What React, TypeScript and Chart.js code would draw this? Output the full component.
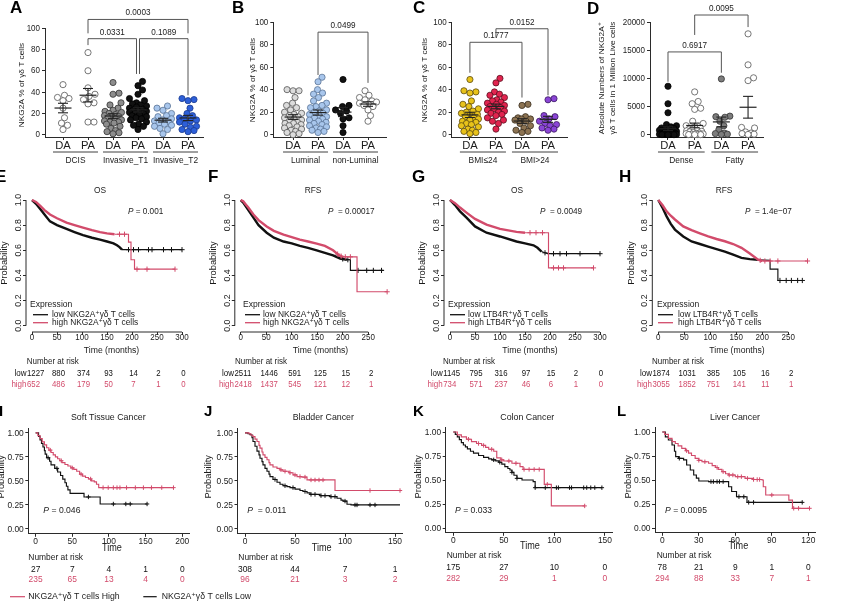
import React, { useEffect, useRef } from "react";
import { Chart, registerables } from "chart.js";

Chart.register(...registerables);

const W = 846;
const H = 603;
const FONT = '"Liberation Sans", Arial, "DejaVu Sans", sans-serif';
const RED = "#d24b6b";
const INK = "#1b1b1b";
const AX = "#2b2b2b";

/* ---------------- Panel A ---------------- */
const A_CATS = ["DA", "PA", "DA", "PA", "DA", "PA"];
const A_GROUPS = ["DCIS", "Invasive_T1", "Invasive_T2"];
const A_Y_TICKS = [0, 20, 40, 60, 80, 100];
const A_DCIS_DA = [47, 37, 35, 34, 32, 25, 16, 11, 9, 5];
const A_DCIS_PA = [77, 60, 44, 38, 36, 33, 30, 29, 12, 12];
const A_T1_DA = [49, 39, 38, 30, 28, 25, 23, 22, 21, 20, 19, 18, 17, 17, 16, 15, 14, 13, 12, 12, 11, 10, 8, 6, 4, 3, 2, 1];
const A_T1_PA = [50, 46, 42, 38, 34, 32, 30, 29, 28, 27, 26, 25, 24, 23, 22, 22, 21, 20, 20, 19, 18, 17, 16, 15, 14, 12, 10, 9, 8, 5];
const A_T2_DA = [27, 25, 23, 20, 18, 17, 15, 14, 13, 12, 11, 10, 9, 8, 6, 5, 1];
const A_T2_PA = [34, 33, 32, 25, 20, 18, 16, 15, 14, 13, 12, 10, 8, 7, 5, 4, 3];
const A_P = ["0.0003", "0.0331", "0.1089"];

/* ---------------- Panel B ---------------- */
const B_CATS = ["DA", "PA", "DA", "PA"];
const B_GROUPS = ["Luminal", "non-Luminal"];
const B_Y_TICKS = [0, 20, 40, 60, 80, 100];
const B_LUM_DA = [40, 39, 39, 33, 28, 26, 24, 22, 20, 19, 18, 17, 16, 15, 14, 13, 12, 11, 10, 10, 9, 8, 7, 6, 5, 4, 3, 2, 1, 0];
const B_LUM_PA = [51, 47, 40, 37, 36, 33, 30, 28, 26, 25, 24, 22, 21, 20, 19, 18, 17, 16, 15, 14, 13, 12, 11, 10, 9, 8, 7, 6, 5, 4, 3, 2];
const B_NON_DA = [49, 26, 25, 22, 21, 19, 15, 14, 8, 2];
const B_NON_PA = [39, 35, 33, 31, 30, 29, 28, 27, 26, 25, 22, 17, 12];
const B_P = ["0.0499"];

/* ---------------- Panel C ---------------- */
const C_CATS = ["DA", "PA", "DA", "PA"];
const C_GROUPS = ["BMI≤24", "BMI>24"];
const C_Y_TICKS = [0, 20, 40, 60, 80, 100];
const C_LO_DA = [49, 39, 38, 37, 30, 27, 25, 23, 21, 20, 19, 18, 17, 16, 15, 14, 13, 12, 11, 10, 9, 8, 7, 5, 4, 3, 2, 1];
const C_LO_PA = [50, 46, 38, 36, 35, 33, 31, 30, 29, 28, 27, 26, 25, 24, 23, 22, 21, 20, 19, 18, 17, 15, 13, 12, 10, 5];
const C_HI_DA = [27, 26, 16, 15, 14, 14, 13, 12, 10, 8, 6, 4, 3, 2];
const C_HI_PA = [32, 31, 17, 16, 14, 12, 10, 9, 8, 6, 5, 4];
const C_P = ["0.1777", "0.0152"];

/* ---------------- Panel D ---------------- */
const D_CATS = ["DA", "PA", "DA", "PA"];
const D_GROUPS = ["Dense", "Fatty"];
const D_Y_TICKS = [0, 5000, 10000, 15000, 20000];
const D_DENSE_DA = [8600, 5500, 3900, 1800, 1600, 1400, 1200, 1100, 1000, 900, 800, 700, 600, 500, 450, 400, 350, 300, 250, 200, 150, 120, 100, 80, 60, 40, 30, 20, 10, 5];
const D_DENSE_PA = [7600, 5900, 5500, 4700, 4500, 2400, 2000, 1600, 1400, 1200, 1000, 900, 800, 700, 600, 500, 400, 300, 250, 200, 150, 100, 50, 30, 20, 10];
const D_FATTY_DA = [9900, 3300, 3200, 3100, 2400, 1600, 900, 300, 200, 100, 50];
const D_FATTY_PA = [17900, 12400, 10100, 9600, 1300, 1200, 500, 300, 200, 100, 50];
const D_P = ["0.6917", "0.0095"];

/* ---------------- KM E-H (R style) ---------------- */
const R_Y_TICKS = [0, 0.2, 0.4, 0.6, 0.8, 1.0];
const E_X_TICKS = [0, 50, 100, 150, 200, 250, 300];
const F_X_TICKS = [0, 50, 100, 150, 200, 250];
const NKG_LEG = ["low NKG2A⁺γδ T cells", "high NKG2A⁺γδ T cells"];
const LTB_LEG = ["low LTB4R⁺γδ T cells", "high LTB4R⁺γδ T cells"];

const E_LOW = [[0, 1], [8, 0.97], [16, 0.93], [25, 0.885], [36, 0.83], [50, 0.8], [69, 0.77], [85, 0.745], [102, 0.72], [120, 0.7], [136, 0.685], [150, 0.67], [163, 0.655], [170, 0.64], [175, 0.625], [180, 0.605], [300, 0.605]];
const E_HIGH = [[0, 1], [8, 0.985], [16, 0.955], [25, 0.92], [36, 0.885], [50, 0.855], [69, 0.82], [85, 0.8], [102, 0.78], [120, 0.76], [136, 0.745], [150, 0.735], [165, 0.728], [193, 0.728], [193, 0.665], [198, 0.665], [198, 0.525], [205, 0.525], [205, 0.45], [286, 0.45]];
const E_LOW_CENS = [193, 203, 213, 233, 240, 263, 279, 300];
const E_HIGH_CENS = [175, 185, 210, 230, 286];
const E_RISK_LOW = [1227, 880, 374, 93, 14, 2, 0];
const E_RISK_HIGH = [652, 486, 179, 50, 7, 1, 0];
const E_P = "0.001";

const F_LOW = [[0, 1], [5, 0.98], [10, 0.95], [15, 0.92], [25, 0.86], [35, 0.8], [51, 0.74], [65, 0.7], [84, 0.67], [100, 0.655], [116, 0.635], [132, 0.62], [149, 0.6], [165, 0.58], [181, 0.56], [195, 0.535], [208, 0.525], [215, 0.525], [215, 0.44], [280, 0.44]];
const F_HIGH = [[0, 1], [5, 0.99], [10, 0.965], [15, 0.94], [25, 0.885], [35, 0.84], [51, 0.79], [65, 0.755], [84, 0.725], [100, 0.705], [116, 0.685], [132, 0.67], [149, 0.653], [165, 0.635], [181, 0.6], [193, 0.56], [200, 0.548], [228, 0.548], [228, 0.27], [287, 0.27]];
const F_LOW_CENS = [200, 210, 230, 247, 260, 276];
const F_HIGH_CENS = [190, 197, 205, 215, 287];
const F_RISK_LOW = [2511, 1446, 591, 125, 15, 2];
const F_RISK_HIGH = [2418, 1437, 545, 121, 12, 1];
const F_P = "0.00017";

const G_LOW = [[0, 1], [10, 0.96], [20, 0.91], [33, 0.86], [50, 0.79], [73, 0.74], [100, 0.71], [133, 0.67], [150, 0.655], [167, 0.64], [175, 0.62], [183, 0.59], [195, 0.573], [300, 0.573]];
const G_HIGH = [[0, 1], [10, 0.975], [20, 0.94], [33, 0.9], [50, 0.85], [73, 0.805], [100, 0.77], [133, 0.747], [150, 0.74], [197, 0.74], [197, 0.46], [287, 0.46]];
const G_LOW_CENS = [190, 207, 220, 233, 260, 300];
const G_HIGH_CENS = [160, 172, 185, 207, 217, 227, 287];
const G_RISK_LOW = [1145, 795, 316, 97, 15, 2, 0];
const G_RISK_HIGH = [734, 571, 237, 46, 6, 1, 0];
const G_P = "0.0049";

const H_LOW = [[0, 1], [8, 0.94], [16, 0.87], [24, 0.81], [32, 0.765], [48, 0.71], [64, 0.67], [80, 0.65], [96, 0.63], [112, 0.61], [128, 0.59], [144, 0.565], [160, 0.54], [176, 0.53], [192, 0.525], [215, 0.52], [215, 0.45], [230, 0.45], [230, 0.36], [277, 0.36]];
const H_HIGH = [[0, 1], [8, 0.96], [16, 0.91], [24, 0.875], [32, 0.845], [48, 0.79], [64, 0.76], [80, 0.735], [96, 0.71], [112, 0.69], [128, 0.672], [144, 0.65], [160, 0.62], [176, 0.575], [192, 0.525], [200, 0.515], [287, 0.515]];
const H_LOW_CENS = [234, 246, 256, 268, 277];
const H_HIGH_CENS = [196, 205, 215, 230, 287];
const H_RISK_LOW = [1874, 1031, 385, 105, 16, 2];
const H_RISK_HIGH = [3055, 1852, 751, 141, 11, 1];
const H_P = "1.4e−07";

/* ---------------- KM I-L (ggplot style) ---------------- */
const GG_Y_TICKS = [0, 0.25, 0.5, 0.75, 1.0];
const I_X_TICKS = [0, 50, 100, 150, 200];
const J_X_TICKS = [0, 50, 100, 150];
const K_X_TICKS = [0, 50, 100, 150];
const L_X_TICKS = [0, 30, 60, 90, 120];
const BOTTOM_LEG = ["NKG2A⁺γδ T cells High", "NKG2A⁺γδ T cells Low"];

const I_LOW = [[0, 1], [4, 0.963], [6, 0.926], [8, 0.889], [10, 0.852], [12, 0.815], [13, 0.778], [15, 0.741], [19, 0.704], [21, 0.667], [26, 0.63], [30, 0.593], [34, 0.556], [37, 0.519], [40, 0.481], [42, 0.444], [44, 0.407], [47, 0.37], [66, 0.333], [88, 0.26], [152, 0.26]];
const I_HIGH = [[0, 1], [3, 0.97], [6, 0.94], [9, 0.905], [12, 0.875], [15, 0.845], [18, 0.82], [21, 0.795], [24, 0.77], [27, 0.75], [30, 0.73], [33, 0.71], [36, 0.69], [40, 0.67], [44, 0.655], [48, 0.635], [52, 0.62], [56, 0.6], [60, 0.57], [64, 0.55], [68, 0.535], [72, 0.52], [76, 0.5], [80, 0.49], [83, 0.465], [86, 0.43], [188, 0.43]];
const I_LOW_CENS = [17, 29, 72, 106, 123, 129, 152];
const I_HIGH_CENS = [20, 35, 50, 62, 75, 92, 99, 106, 111, 115, 124, 136, 147, 158, 172, 188];
const I_RISK_LOW = [27, 7, 4, 1, 0];
const I_RISK_HIGH = [235, 65, 13, 4, 0];
const I_P = "0.046";

const J_LOW = [[0, 1], [3, 0.99], [5, 0.98], [7, 0.95], [8, 0.91], [10, 0.86], [12, 0.81], [14, 0.77], [15, 0.736], [17, 0.7], [18, 0.667], [20, 0.63], [22, 0.6], [24, 0.57], [25, 0.545], [28, 0.515], [32, 0.486], [35, 0.465], [38, 0.45], [42, 0.44], [45, 0.43], [50, 0.415], [55, 0.4], [58, 0.39], [62, 0.375], [65, 0.36], [75, 0.347], [85, 0.337], [92, 0.32], [96, 0.3], [98, 0.29], [102, 0.257], [106, 0.25], [155, 0.25]];
const J_HIGH = [[0, 1], [4, 0.99], [6, 0.975], [8, 0.96], [10, 0.935], [12, 0.91], [14, 0.87], [15, 0.84], [17, 0.8], [18, 0.77], [20, 0.745], [22, 0.72], [24, 0.69], [25, 0.667], [28, 0.645], [32, 0.63], [35, 0.615], [38, 0.6], [44, 0.585], [48, 0.5625], [52, 0.545], [57, 0.54], [62, 0.51], [90, 0.4], [155, 0.4]];
const J_LOW_CENS = [30, 40, 48, 60, 66, 70, 76, 80, 86, 90, 100, 110, 112, 125, 130];
const J_HIGH_CENS = [36, 40, 45, 50, 55, 60, 66, 70, 74, 78, 125, 155];
const J_RISK_LOW = [308, 44, 7, 1];
const J_RISK_HIGH = [96, 21, 3, 2];
const J_P = "0.011";

const K_LOW = [[0, 1], [2, 0.975], [4, 0.95], [6, 0.92], [8, 0.89], [10, 0.865], [12, 0.845], [14, 0.825], [17, 0.8], [20, 0.78], [25, 0.755], [30, 0.735], [35, 0.72], [38, 0.71], [42, 0.7], [45, 0.685], [48, 0.665], [51, 0.64], [54, 0.62], [56, 0.604], [58, 0.58], [60, 0.55], [63, 0.517], [68, 0.5], [79, 0.483], [81, 0.42], [147, 0.42]];
const K_HIGH = [[0, 1], [4, 0.97], [8, 0.95], [13, 0.925], [18, 0.9], [23, 0.88], [28, 0.86], [32, 0.84], [35, 0.82], [40, 0.8], [43, 0.73], [47, 0.71], [50, 0.698], [58, 0.674], [66, 0.64], [69, 0.61], [90, 0.455], [97, 0.23], [130, 0.23]];
const K_LOW_CENS = [40, 46, 58, 63, 81, 91, 102, 104, 115, 117, 129, 132, 136, 140, 147];
const K_HIGH_CENS = [15, 25, 30, 38, 48, 55, 62, 70, 75, 80, 85, 93, 130];
const K_RISK_LOW = [175, 27, 10, 0];
const K_RISK_HIGH = [282, 29, 1, 0];
const K_P = "0.033";

const L_LOW = [[0, 1], [2.5, 0.95], [5, 0.917], [8, 0.865], [10, 0.8], [11, 0.743], [13.4, 0.726], [17.5, 0.71], [20, 0.656], [23, 0.604], [25.8, 0.552], [28, 0.52], [30, 0.49], [38, 0.483], [54.5, 0.43], [57, 0.38], [61, 0.326], [69.6, 0.267], [115, 0.267]];
const L_HIGH = [[0, 1], [2, 0.975], [5, 0.934], [8, 0.9], [10.7, 0.88], [13, 0.855], [16, 0.83], [19, 0.805], [21.6, 0.78], [24, 0.755], [27, 0.726], [30, 0.705], [32.6, 0.69], [38, 0.674], [41, 0.65], [43.6, 0.63], [46, 0.61], [49, 0.587], [52, 0.565], [54.5, 0.552], [60, 0.535], [68, 0.517], [75, 0.505], [82, 0.5], [83, 0.43], [85, 0.344], [104, 0.29], [107, 0.205], [121, 0.205]];
const L_LOW_CENS = [14, 40, 42, 45, 47, 50, 63, 67, 71, 75, 115];
const L_HIGH_CENS = [20, 30, 35, 45, 50, 55, 58, 62, 65, 70, 75, 78, 80, 90, 108, 112, 121];
const L_RISK_LOW = [78, 21, 9, 1, 0];
const L_RISK_HIGH = [294, 88, 33, 7, 1];
const L_P = "0.0095";

/* ---------------- helpers ---------------- */
type TOpt = { size?: number; color?: string; align?: CanvasTextAlign; bold?: boolean; italic?: boolean; rot?: number; sx?: number };

function fontOf(o: TOpt) {
  return `${o.italic ? "italic " : ""}${o.bold ? "bold " : ""}${o.size ?? 9}px ${FONT}`;
}
function text(ctx: CanvasRenderingContext2D, s: string, x: number, y: number, o: TOpt = {}) {
  ctx.save();
  ctx.font = fontOf(o);
  ctx.fillStyle = o.color ?? INK;
  ctx.textAlign = o.align ?? "left";
  ctx.textBaseline = "middle";
  ctx.translate(x, y);
  ctx.scale(o.sx ?? 0.88, 1);
  if (o.rot) ctx.rotate(o.rot);
  ctx.fillText(s, 0, 0);
  ctx.restore();
}
function textW(ctx: CanvasRenderingContext2D, s: string, o: TOpt = {}) {
  ctx.save();
  ctx.font = fontOf(o);
  const w = ctx.measureText(s).width * (o.sx ?? 0.88);
  ctx.restore();
  return w;
}
function seg(ctx: CanvasRenderingContext2D, x1: number, y1: number, x2: number, y2: number, color: string, lw: number) {
  ctx.save();
  ctx.strokeStyle = color;
  ctx.lineWidth = lw;
  ctx.beginPath();
  ctx.moveTo(x1, y1);
  ctx.lineTo(x2, y2);
  ctx.stroke();
  ctx.restore();
}
function pText(ctx: CanvasRenderingContext2D, rest: string, x: number, y: number, size: number) {
  text(ctx, "P", x, y, { size, italic: true });
  const w = textW(ctx, "P", { size, italic: true });
  text(ctx, rest, x + w, y, { size });
}

function baseOptions(area: number[], xr: number[], yr: number[], xTicks: number[], yTicks: number[], bx: boolean, by: boolean, tl: number) {
  const [l, t, r, b] = area;
  const YW = 10;
  const XH = 10;
  const axis = (min: number, max: number, ticks: number[], isX: boolean, border: boolean) => ({
    type: "linear",
    min,
    max,
    afterBuildTicks: (s: any) => {
      s.ticks = ticks.map((v) => ({ value: v }));
    },
    afterFit: (s: any) => {
      if (isX) s.height = XH;
      else s.width = YW;
      s.paddingLeft = 0;
      s.paddingRight = 0;
      s.paddingTop = 0;
      s.paddingBottom = 0;
    },
    ticks: { display: false },
    grid: { display: true, drawOnChartArea: false, drawTicks: true, tickLength: tl, color: AX, lineWidth: 1 },
    border: { display: border, color: AX, width: 1 },
  });
  return {
    animation: false,
    responsive: false,
    maintainAspectRatio: false,
    events: [],
    layout: { autoPadding: false, padding: { left: l - YW, top: t, right: W - r, bottom: H - b - XH } },
    plugins: { legend: { display: false }, tooltip: { enabled: false }, title: { display: false } },
    scales: { x: axis(xr[0], xr[1], xTicks, true, bx), y: axis(yr[0], yr[1], yTicks, false, by) },
  };
}

function swarm(vals: number[], ppuY: number, d: number, maxOff: number): number[] {
  const idx = vals.map((_, i) => i).sort((a, b) => vals[a] - vals[b]);
  const placed: number[][] = [];
  const out = new Array(vals.length).fill(0);
  const cands: number[] = [0];
  for (let k = 1; k <= maxOff * 2; k++) cands.push(k * 0.5, -k * 0.5);
  for (const i of idx) {
    const y = vals[i] * ppuY;
    let best = 0;
    let bestD = -1;
    for (const c of cands) {
      let md = Infinity;
      for (const p of placed) {
        const dd = Math.hypot(p[0] - c, p[1] - y);
        if (dd < md) md = dd;
      }
      if (md >= d) {
        best = c;
        break;
      }
      if (md > bestD) {
        bestD = md;
        best = c;
      }
    }
    placed.push([best, y]);
    out[i] = best;
  }
  return out;
}

/* ---------------- dot plots ---------------- */
type Bracket = { a: number; b: number; top: number; ya: number; yb: number; label: string; da?: number; db?: number };
type DotCfg = {
  area: number[];
  xr: number[];
  yr: number[];
  yTicks: number[];
  cats: string[];
  groups: string[];
  series: number[][];
  fills: string[];
  edges: string[];
  brackets: Bracket[];
  yTitle: string[];
  yTitleX: number[];
  yTitleY: number;
  letter: [string, number, number];
};

function makeDot(c: DotCfg) {
  const [l, t, r, b] = c.area;
  const ppuX = (r - l) / (c.xr[1] - c.xr[0]);
  const ppuY = (b - t) / (c.yr[1] - c.yr[0]);
  const datasets = c.series.map((vals, i) => {
    const off = swarm(vals, ppuY, 6.0, 8.5);
    return {
      data: vals.map((v, k) => ({ x: i + off[k] / ppuX, y: v })),
      backgroundColor: c.fills[i],
      borderColor: c.edges[i],
      borderWidth: 0.8,
      pointRadius: 3.1,
      pointHoverRadius: 3.1,
      clip: false,
    };
  });
  const decor = {
    id: "decor",
    afterDraw(ch: any) {
      const ctx: CanvasRenderingContext2D = ch.ctx;
      const X = (v: number) => ch.scales.x.getPixelForValue(v);
      const Y = (v: number) => ch.scales.y.getPixelForValue(v);
      c.series.forEach((vals, i) => {
        const n = vals.length;
        const m = vals.reduce((a, v) => a + v, 0) / n;
        const sd = Math.sqrt(vals.reduce((a, v) => a + (v - m) * (v - m), 0) / (n - 1));
        const se = sd / Math.sqrt(n);
        const cx = X(i);
        const ym = Y(m);
        const y1 = Y(m - se);
        const y2 = Y(m + se);
        seg(ctx, cx - 8.5, ym, cx + 8.5, ym, "#222", 1.2);
        seg(ctx, cx, y1, cx, y2, "#222", 1.1);
        seg(ctx, cx - 5, y1, cx + 5, y1, "#222", 1.1);
        seg(ctx, cx - 5, y2, cx + 5, y2, "#222", 1.1);
      });
      c.yTicks.forEach((v) => text(ctx, String(v), l - 5, Y(v), { size: 9.3, align: "right", sx: 0.86 }));
      c.cats.forEach((s, i) => text(ctx, s, X(i), 145.5, { size: 11.2, align: "center", sx: 1 }));
      c.groups.forEach((g, gi) => {
        const x1 = X(2 * gi) - 10;
        const x2 = X(2 * gi + 1) + 10;
        seg(ctx, x1, 152, x2, 152, AX, 0.9);
        text(ctx, g, (x1 + x2) / 2, 160.5, { size: 9.3, align: "center", sx: 0.9 });
      });
      c.yTitle.forEach((s, k) => text(ctx, s, c.yTitleX[k], c.yTitleY, { size: 8.3, align: "center", rot: -Math.PI / 2, sx: 0.95 }));
      c.brackets.forEach((br) => {
        const xa = X(br.a) + (br.da ?? 0);
        const xb = X(br.b) + (br.db ?? 0);
        const yt = Y(br.top);
        ctx.save();
        ctx.strokeStyle = "#555";
        ctx.lineWidth = 1;
        ctx.beginPath();
        ctx.moveTo(xa, Y(br.ya));
        ctx.lineTo(xa, yt);
        ctx.lineTo(xb, yt);
        ctx.lineTo(xb, Y(br.yb));
        ctx.stroke();
        ctx.restore();
        text(ctx, br.label, (xa + xb) / 2, yt - 6.5, { size: 8.6, align: "center", sx: 0.95 });
      });
      text(ctx, c.letter[0], c.letter[1], c.letter[2], { size: 17, bold: true, sx: 1, color: "#000" });
    },
  };
  const options: any = baseOptions(c.area, c.xr, c.yr, c.cats.map((_, i) => i), c.yTicks, true, true, 3);
  return { type: "scatter", data: { datasets }, options, plugins: [decor] };
}

/* ---------------- KM ---------------- */
type Curve = { pts: number[][]; cens: number[]; color: string; stepped: boolean; thickTo?: number };
type KMCfg = {
  style: "R" | "gg";
  area: number[];
  xr: number[];
  yr: number[];
  xTicks: number[];
  yTicks: number[];
  curves: Curve[];
  letter: [string, number, number, number];
  title: [string, number, number];
  p: [string, number, number];
  xTitle: [string, number, number];
  yTitle: [number, number];
  legend?: { x: number; lx: number[]; tx: number; labels: string[] };
  table: { hx: number; hy: number; ys: number[]; rows: number[][]; labels?: string[]; lx?: number; dx?: number };
  extra?: (ctx: CanvasRenderingContext2D) => void;
};

function evalCurve(c: Curve, t: number) {
  const p = c.pts;
  if (c.stepped) {
    let y = p[0][1];
    for (const q of p) {
      if (q[0] <= t) y = q[1];
      else break;
    }
    return y;
  }
  for (let i = 1; i < p.length; i++) {
    if (t <= p[i][0]) {
      const [x0, y0] = p[i - 1];
      const [x1, y1] = p[i];
      if (x1 === x0) return y1;
      return y0 + ((y1 - y0) * (t - x0)) / (x1 - x0);
    }
  }
  return p[p.length - 1][1];
}

function makeKM(c: KMCfg) {
  const R = c.style === "R";
  const datasets: any[] = [];
  c.curves.forEach((cv) => {
    datasets.push({
      data: cv.pts.map((q) => ({ x: q[0], y: q[1] })),
      showLine: true,
      stepped: cv.stepped ? "before" : false,
      borderColor: cv.color,
      backgroundColor: cv.color,
      borderWidth: 1.15,
      pointRadius: 0,
      fill: false,
      tension: 0,
      clip: false,
      segment: cv.thickTo !== undefined ? { borderWidth: (s: any) => (s.p1.parsed.x <= (cv.thickTo as number) ? 2.4 : 1.15) } : undefined,
    });
    datasets.push({
      data: cv.cens.map((t) => ({ x: t, y: evalCurve(cv, t) })),
      showLine: false,
      pointStyle: "cross",
      pointRadius: R ? 2.6 : 2.2,
      pointBorderWidth: 1,
      borderColor: cv.color,
      backgroundColor: cv.color,
      borderWidth: 1,
      clip: false,
    });
  });
  const decor = {
    id: "kmdecor",
    afterDraw(ch: any) {
      const ctx: CanvasRenderingContext2D = ch.ctx;
      const ca = ch.chartArea;
      const X = (v: number) => ch.scales.x.getPixelForValue(v);
      const Y = (v: number) => ch.scales.y.getPixelForValue(v);
      const ts = R ? 9.3 : 9.8;
      if (R) {
        seg(ctx, ca.left, Y(0), ca.left, Y(1), AX, 1);
        seg(ctx, X(c.xTicks[0]), ca.bottom, X(c.xTicks[c.xTicks.length - 1]), ca.bottom, AX, 1);
        c.yTicks.forEach((v) => text(ctx, v.toFixed(1), ca.left - 7.5, Y(v), { size: 8.8, align: "center", rot: -Math.PI / 2, sx: 0.95 }));
      } else {
        c.yTicks.forEach((v) => text(ctx, v.toFixed(2), ca.left - 4.5, Y(v), { size: 9.8, align: "right", sx: 0.86, color: "#222" }));
      }
      c.xTicks.forEach((v) => text(ctx, String(v), X(v), ca.bottom + (R ? 5 : 7.3), { size: ts, align: "center", sx: 0.86, color: "#222" }));
      text(ctx, c.xTitle[0], c.xTitle[1], c.xTitle[2], { size: ts + 0.3, align: "center", sx: 0.9 });
      text(ctx, "Probability", c.yTitle[0], c.yTitle[1], { size: 9.3, align: "center", rot: -Math.PI / 2, sx: 0.95 });
      text(ctx, c.title[0], c.title[1], c.title[2], { size: ts, align: "center", sx: 0.9 });
      pText(ctx, c.p[0], c.p[1], c.p[2], ts);
      if (c.legend) {
        const lg = c.legend;
        text(ctx, "Expression", lg.x, 304.3, { size: 9.3, sx: 0.92 });
        const ys = [314.7, 322.7];
        const cols = ["#111", RED];
        lg.labels.forEach((s, k) => {
          seg(ctx, lg.lx[0], ys[k], lg.lx[1], ys[k], cols[k], 1.3);
          text(ctx, s, lg.tx, ys[k], { size: 9.3, sx: 0.9 });
        });
      }
      const tb = c.table;
      text(ctx, "Number at risk", tb.hx, tb.hy, { size: ts, sx: 0.86 });
      const cols = ["#111", RED];
      tb.rows.forEach((row, k) => {
        const y = tb.ys[k];
        if (tb.labels && tb.lx !== undefined) {
          text(ctx, tb.labels[k], tb.lx, y, { size: ts, align: "right", color: cols[k], sx: 0.86 });
          row.forEach((v, j) => {
            if (j === 0) text(ctx, String(v), (tb.lx as number) + 0.5, y, { size: ts, color: cols[k], sx: 0.84 });
            else text(ctx, String(v), X(c.xTicks[j]) + (tb.dx ?? 0), y, { size: ts, align: "center", color: cols[k], sx: 0.84 });
          });
        } else {
          row.forEach((v, j) => text(ctx, String(v), X(c.xTicks[j]), y, { size: ts, align: "center", color: cols[k], sx: 0.86 }));
        }
      });
      text(ctx, c.letter[0], c.letter[1], c.letter[2], { size: c.letter[3], bold: true, sx: 1, color: "#000" });
      if (c.extra) c.extra(ctx);
    },
  };
  const options: any = baseOptions(c.area, c.xr, c.yr, c.xTicks, c.yTicks, !R, !R, 3);
  return { type: "line", data: { datasets }, options, plugins: [decor] };
}

/* ---------------- panel configs ---------------- */
const WHITE = "#ffffff";
const dotA: DotCfg = {
  area: [45, 28, 203, 137], xr: [-0.72, 5.6], yr: [-2, 100], yTicks: A_Y_TICKS, cats: A_CATS, groups: A_GROUPS,
  series: [A_DCIS_DA, A_DCIS_PA, A_T1_DA, A_T1_PA, A_T2_DA, A_T2_PA],
  fills: [WHITE, WHITE, "#8d8d8d", "#111111", "#a8c6ec", "#2d5fd8"],
  edges: ["#555", "#555", "#333", "#000", "#5a7396", "#1d3c8f"],
  brackets: [
    { a: 1, b: 5, top: 108, ya: 95, yb: 95, label: A_P[0] },
    { a: 1, b: 3, top: 90, ya: 84, yb: 57, label: A_P[1], db: -1.5 },
    { a: 3, b: 5, top: 90, ya: 57, yb: 37, label: A_P[2], da: 1.5 },
  ],
  yTitle: ["NKG2A % of γδ T cells"], yTitleX: [22], yTitleY: 85, letter: ["A", 10, 8.5],
};
const dotB: DotCfg = {
  area: [273.3, 22, 386, 137], xr: [-0.79, 3.72], yr: [-2, 100], yTicks: B_Y_TICKS, cats: B_CATS, groups: B_GROUPS,
  series: [B_LUM_DA, B_LUM_PA, B_NON_DA, B_NON_PA],
  fills: ["#dcdcdc", "#a8c6ec", "#111111", WHITE], edges: ["#555", "#5a7396", "#000", "#555"],
  brackets: [{ a: 1, b: 3, top: 91, ya: 53, yb: 46, label: B_P[0] }],
  yTitle: ["NKG2A % of γδ T cells"], yTitleX: [253], yTitleY: 80, letter: ["B", 232, 8.5],
};
const dotC: DotCfg = {
  area: [451.7, 22, 567, 137], xr: [-0.7, 3.73], yr: [-2, 100], yTicks: C_Y_TICKS, cats: C_CATS, groups: C_GROUPS,
  series: [C_LO_DA, C_LO_PA, C_HI_DA, C_HI_PA],
  fills: ["#e8c21a", "#e1244f", "#8c7352", "#8b45d6"], edges: ["#5a4a10", "#5a1020", "#3a2e20", "#3a1a60"],
  brackets: [
    { a: 0, b: 2, top: 82, ya: 55, yb: 33, label: C_P[0] },
    { a: 1, b: 3, top: 94, ya: 86, yb: 35, label: C_P[1] },
  ],
  yTitle: ["NKG2A % of γδ T cells"], yTitleX: [425], yTitleY: 80, letter: ["C", 413, 8.5],
};
const dotD: DotCfg = {
  area: [650, 22, 763, 137], xr: [-0.674, 3.56], yr: [-400, 20000], yTicks: D_Y_TICKS, cats: D_CATS, groups: D_GROUPS,
  series: [D_DENSE_DA, D_DENSE_PA, D_FATTY_DA, D_FATTY_PA],
  fills: ["#111111", WHITE, "#7d7d7d", WHITE], edges: ["#000", "#555", "#333", "#555"],
  brackets: [
    { a: 0, b: 2, top: 14690, ya: 9400, yb: 11000, label: D_P[0] },
    { a: 1, b: 3, top: 21240, ya: 17700, yb: 19100, label: D_P[1] },
  ],
  yTitle: ["Absolute Numbers of NKG2A⁺", "γδ T cells in 1 Million Live cells"], yTitleX: [602, 613], yTitleY: 78,
  letter: ["D", 587, 9],
};

const RISK_Y = [373.3, 384];
const kmE: KMCfg = {
  style: "R", area: [26, 195, 188, 332], xr: [-12, 312], yr: [-0.05, 1.04], xTicks: E_X_TICKS, yTicks: R_Y_TICKS,
  curves: [
    { pts: E_HIGH, cens: E_HIGH_CENS, color: RED, stepped: false, thickTo: 190 },
    { pts: E_LOW, cens: E_LOW_CENS, color: "#111", stepped: false, thickTo: 182 },
  ],
  letter: ["E", -5, 177.5, 17], title: ["OS", 100, 190], p: [" = " + E_P, 128, 211.7],
  xTitle: ["Time (months)", 111.5, 350], yTitle: [5, 263],
  legend: { x: 30, lx: [33, 48], tx: 52, labels: NKG_LEG },
  table: { hx: 26.7, hy: 361.7, ys: RISK_Y, rows: [E_RISK_LOW, E_RISK_HIGH], labels: ["low", "high"], lx: 26.5, dx: 1.5 },
};
const kmF: KMCfg = {
  style: "R", area: [234.8, 195, 393, 332], xr: [-11.5, 298.5], yr: [-0.05, 1.04], xTicks: F_X_TICKS, yTicks: R_Y_TICKS,
  curves: [
    { pts: F_HIGH, cens: F_HIGH_CENS, color: RED, stepped: false, thickTo: 225 },
    { pts: F_LOW, cens: F_LOW_CENS, color: "#111", stepped: false, thickTo: 212 },
  ],
  letter: ["F", 208, 177.5, 17], title: ["RFS", 313, 190], p: ["  = " + F_P, 328, 211.7],
  xTitle: ["Time (months)", 320.5, 350], yTitle: [213.5, 263],
  legend: { x: 243, lx: [245, 260], tx: 263, labels: NKG_LEG },
  table: { hx: 235, hy: 361.7, ys: RISK_Y, rows: [F_RISK_LOW, F_RISK_HIGH], labels: ["low", "high"], lx: 234, dx: 3 },
};
const kmG: KMCfg = {
  style: "R", area: [444, 195, 606, 332], xr: [-12, 312], yr: [-0.05, 1.04], xTicks: E_X_TICKS, yTicks: R_Y_TICKS,
  curves: [
    { pts: G_HIGH, cens: G_HIGH_CENS, color: RED, stepped: false, thickTo: 195 },
    { pts: G_LOW, cens: G_LOW_CENS, color: "#111", stepped: false, thickTo: 185 },
  ],
  letter: ["G", 412, 177.5, 17], title: ["OS", 517, 190], p: ["  = " + G_P, 540, 211.7],
  xTitle: ["Time (months)", 530, 350], yTitle: [423, 263],
  legend: { x: 448, lx: [450, 465], tx: 468, labels: LTB_LEG },
  table: { hx: 443, hy: 361.7, ys: RISK_Y, rows: [G_RISK_LOW, G_RISK_HIGH], labels: ["low", "high"], lx: 442.7, dx: 1 },
};
const kmH: KMCfg = {
  style: "R", area: [652.3, 195, 813.5, 332], xr: [-11.5, 298.5], yr: [-0.05, 1.04], xTicks: F_X_TICKS, yTicks: R_Y_TICKS,
  curves: [
    { pts: H_HIGH, cens: H_HIGH_CENS, color: RED, stepped: false, thickTo: 200 },
    { pts: H_LOW, cens: H_LOW_CENS, color: "#111", stepped: false, thickTo: 205 },
  ],
  letter: ["H", 619, 177.5, 17], title: ["RFS", 724, 190], p: ["  = " + H_P, 745, 211.7],
  xTitle: ["Time (months)", 737, 350], yTitle: [631.3, 263],
  legend: { x: 657, lx: [658, 673], tx: 678, labels: LTB_LEG },
  table: { hx: 652, hy: 361.7, ys: RISK_Y, rows: [H_RISK_LOW, H_RISK_HIGH], labels: ["low", "high"], lx: 652, dx: 3 },
};

const bottomLegend = (ctx: CanvasRenderingContext2D) => {
  seg(ctx, 10, 596.7, 25, 596.7, RED, 1.2);
  text(ctx, BOTTOM_LEG[0], 28.3, 596.7, { size: 9.8, sx: 0.89 });
  seg(ctx, 143.3, 596.7, 156.7, 596.7, "#111", 1.2);
  text(ctx, BOTTOM_LEG[1], 161.7, 596.7, { size: 9.8, sx: 0.89 });
};

const GG_Y1 = [-0.05, 1.05];
const kmI: KMCfg = {
  style: "gg", area: [28.3, 428, 189.6, 533.8], xr: [-10, 210], yr: GG_Y1, xTicks: I_X_TICKS, yTicks: GG_Y_TICKS,
  curves: [
    { pts: I_HIGH, cens: I_HIGH_CENS, color: RED, stepped: true },
    { pts: I_LOW, cens: I_LOW_CENS, color: "#111", stepped: true },
  ],
  letter: ["I", -1, 412, 15], title: ["Soft Tissue Cancer", 108.3, 417.3], p: [" = " + I_P, 43.3, 510.7],
  xTitle: ["Time", 112, 548.7], yTitle: [2, 476.7],
  table: { hx: 28.3, hy: 557.3, ys: [569.3, 579.3], rows: [I_RISK_LOW, I_RISK_HIGH] },
  extra: bottomLegend,
};
const kmJ: KMCfg = {
  style: "gg", area: [237.5, 428, 402.5, 533.8], xr: [-7.5, 157.5], yr: GG_Y1, xTicks: J_X_TICKS, yTicks: GG_Y_TICKS,
  curves: [
    { pts: J_HIGH, cens: J_HIGH_CENS, color: RED, stepped: true },
    { pts: J_LOW, cens: J_LOW_CENS, color: "#111", stepped: true },
  ],
  letter: ["J", 204, 412, 15], title: ["Bladder Cancer", 323.3, 417.3], p: ["  = " + J_P, 247.3, 510.7],
  xTitle: ["Time", 321.7, 548.7], yTitle: [208.3, 476.7],
  table: { hx: 238.3, hy: 557.3, ys: [569.3, 579.3], rows: [J_RISK_LOW, J_RISK_HIGH] },
};
const kmK: KMCfg = {
  style: "gg", area: [445.7, 427.2, 612.5, 532.8], xr: [-7.5, 157.5], yr: GG_Y1, xTicks: K_X_TICKS, yTicks: GG_Y_TICKS,
  curves: [
    { pts: K_HIGH, cens: K_HIGH_CENS, color: RED, stepped: true },
    { pts: K_LOW, cens: K_LOW_CENS, color: "#111", stepped: true },
  ],
  letter: ["K", 413, 412, 15], title: ["Colon Cancer", 527.3, 417.3], p: [" = " + K_P, 455, 510.7],
  xTitle: ["Time", 530, 546.7], yTitle: [419, 476.7],
  table: { hx: 446.7, hy: 555.7, ys: [567.7, 578.3], rows: [K_RISK_LOW, K_RISK_HIGH] },
};
const kmL: KMCfg = {
  style: "gg", area: [655, 427.2, 815.6, 532.8], xr: [-6, 126], yr: GG_Y1, xTicks: L_X_TICKS, yTicks: GG_Y_TICKS,
  curves: [
    { pts: L_HIGH, cens: L_HIGH_CENS, color: RED, stepped: true },
    { pts: L_LOW, cens: L_LOW_CENS, color: "#111", stepped: true },
  ],
  letter: ["L", 617, 412, 15], title: ["Liver Cancer", 735, 417.3], p: [" = " + L_P, 665, 510.7],
  xTitle: ["Time", 738.3, 546.7], yTitle: [628.3, 476.7],
  table: { hx: 656.7, hy: 555.7, ys: [567.7, 578.3], rows: [L_RISK_LOW, L_RISK_HIGH] },
};

const MAKERS: (() => any)[] = [
  () => makeDot(dotA),
  () => makeDot(dotB),
  () => makeDot(dotC),
  () => makeDot(dotD),
  () => makeKM(kmE),
  () => makeKM(kmF),
  () => makeKM(kmG),
  () => makeKM(kmH),
  () => makeKM(kmI),
  () => makeKM(kmJ),
  () => makeKM(kmK),
  () => makeKM(kmL),
];

function Panel({ make }: { make: () => any }) {
  const ref = useRef<HTMLCanvasElement>(null);
  useEffect(() => {
    if (!ref.current) return;
    const chart = new Chart(ref.current, make());
    return () => chart.destroy();
  }, [make]);
  return <canvas ref={ref} width={W} height={H} style={{ position: "absolute", left: 0, top: 0, width: W, height: H }} />;
}

export default function App() {
  return (
    <div style={{ position: "fixed", left: 0, top: 0, width: W, height: H, background: "#fff", overflow: "hidden" }}>
      {MAKERS.map((m, i) => (
        <Panel key={i} make={m} />
      ))}
    </div>
  );
}
